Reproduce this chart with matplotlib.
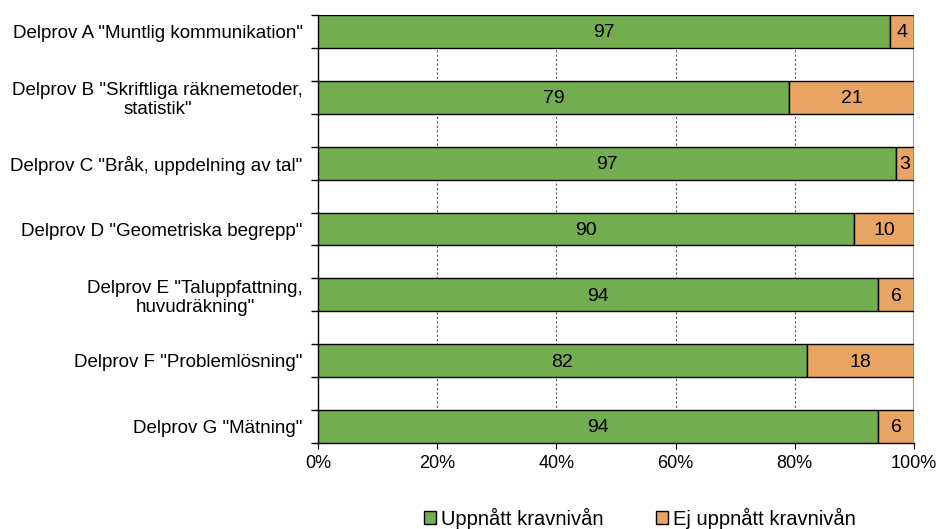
import matplotlib.pyplot as plt
import numpy as np
from matplotlib.patches import Patch
from matplotlib.ticker import PercentFormatter

plt.rcParams['font.family'] = ['Liberation Sans', 'DejaVu Sans']

categories = ['Delprov A "Muntlig kommunikation"',
              'Delprov B "Skriftliga räknemetoder,\nstatistik"',
              'Delprov C "Bråk, uppdelning av tal"',
              'Delprov D "Geometriska begrepp"',
              'Delprov E "Taluppfattning,\nhuvudräkning"',
              'Delprov F "Problemlösning"',
              'Delprov G "Mätning"']
reached = [97, 79, 97, 90, 94, 82, 94]
not_reached = [4, 21, 3, 10, 6, 18, 6]
series_names = ['Uppnått kravnivån', 'Ej uppnått kravnivån']

green = '#72AD50'
orange = '#E8A462'

reached = np.array(reached, dtype=float)
not_reached = np.array(not_reached, dtype=float)
total = reached + not_reached
p1 = reached / total * 100
p2 = not_reached / total * 100

fig = plt.figure(figsize=(9.39, 5.29), dpi=100)
ax = fig.add_axes([318 / 939, 1 - 443 / 529, 596 / 939, 428 / 529])

y = np.arange(len(categories))
h = 0.5
ax.barh(y, p1, height=h, color=green, edgecolor='black', linewidth=1, zorder=3)
ax.barh(y, p2, left=p1, height=h, color=orange, edgecolor='black', linewidth=1, zorder=3)

for i in range(len(categories)):
    ax.text(p1[i] / 2, y[i] + 0.02, f'{reached[i]:.0f}', ha='center', va='center', fontsize=14, zorder=4)
    ax.text(p1[i] + p2[i] / 2, y[i] + 0.02, f'{not_reached[i]:.0f}', ha='center', va='center', fontsize=14, zorder=4)

ax.set_xlim(0, 100)
ax.set_ylim(len(categories) - 1 + h / 2, -h / 2)

ax.set_xticks(np.arange(0, 101, 20))
ax.xaxis.set_major_formatter(PercentFormatter(decimals=0))
for x in [20, 40, 60, 80]:
    ax.axvline(x, color='#555555', linestyle=(0, (2, 2)), linewidth=0.8, zorder=1)
ax.axvline(100, color='#999999', linewidth=1.5, zorder=1)

ax.set_yticks(y)
ax.set_yticklabels(categories, fontsize=13.5, multialignment='center', linespacing=1.15)
ax.set_yticks(np.concatenate([y - h / 2, y + h / 2]), minor=True)
ax.tick_params(axis='y', which='major', length=0, pad=11)
ax.tick_params(axis='y', which='minor', length=5, width=1)
ax.tick_params(axis='x', length=4, labelsize=13, pad=5)

for s in ['top', 'right']:
    ax.spines[s].set_visible(False)
ax.spines['left'].set_linewidth(1)
ax.spines['bottom'].set_linewidth(1)

handles = [Patch(facecolor=green, edgecolor='black', linewidth=1),
           Patch(facecolor=orange, edgecolor='black', linewidth=1)]
fig.legend(handles, series_names, loc='center', bbox_to_anchor=(640 / 939, 1 - 518 / 529),
           ncol=2, frameon=False, fontsize=14.5, handlelength=0.6, handleheight=0.6,
           handletextpad=0.25, columnspacing=2.6)

fig.savefig('out.png', dpi=100)
